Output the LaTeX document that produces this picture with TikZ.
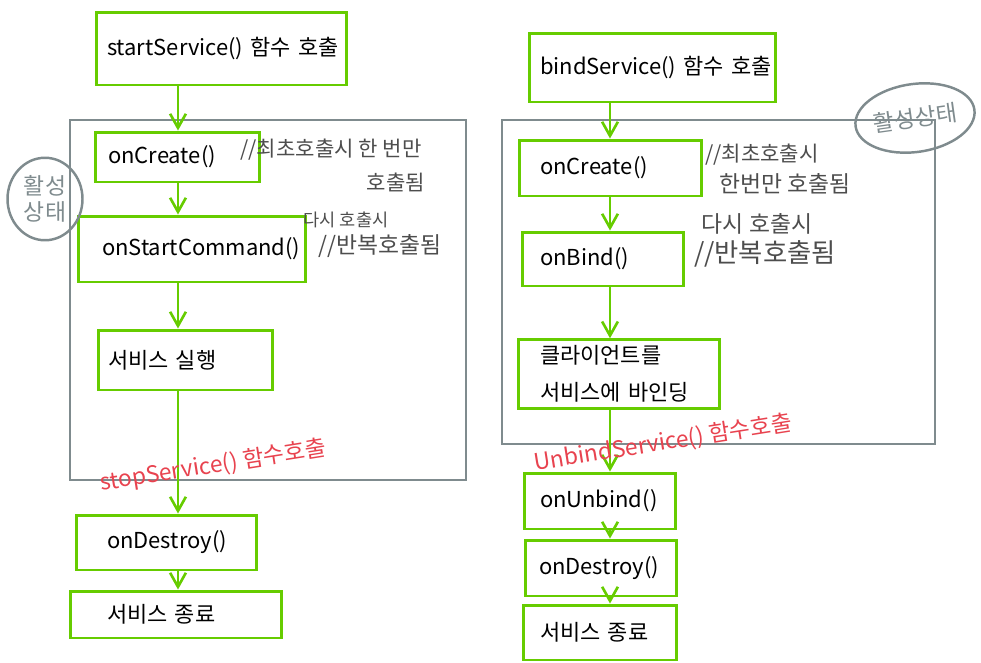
\documentclass[tikz,border=0pt]{standalone}
\usepackage{fontspec}
\setmainfont{Noto Sans CJK KR}
\usetikzlibrary{arrows.meta, shapes.geometric}
\definecolor{boxgreen}{HTML}{66CC00}
\definecolor{framegray}{HTML}{7F8B8E}
\definecolor{pengray}{HTML}{4D4D4D}
\definecolor{penred}{HTML}{E8434F}

\begin{document}
\begin{tikzpicture}[x=0.02cm, y=-0.02cm,
    box/.style={draw=boxgreen, line width=1.7pt, align=left, font=\fontsize{12.5}{15}\selectfont},
    flow/.style={draw=boxgreen, line width=1.5pt, -{Straight Barb[length=8pt, width=9pt, line width=1.5pt]}},
    frame/.style={draw=framegray, line width=1.4pt},
    memo/.style={text=pengray, inner sep=0pt},
    redmemo/.style={text=penred, font=\fontsize{13}{15}\selectfont, inner sep=0pt}]
\useasboundingbox (0,0) rectangle (981,663);

% startService() side
\draw[frame] (70,120) rectangle (466,480);
\node (startL) [box, minimum height=1.46cm, inner xsep=0.22cm, text width=4.58cm] at (221.5,48.5) {\mbox{startService() 함수 호출}};
\node (createL) [box, minimum height=1.0cm, inner xsep=0.26cm, text width=2.78cm] at (177.5,157) {onCreate()};
\node (command) [box, minimum height=1.32cm, inner xsep=0.48cm, text width=3.6cm] at (192,249) {\mbox{onStartCommand()}};
\node (runL) [box, minimum height=1.2cm, inner xsep=0.2cm, text width=3.1cm] at (185.5,360) {서비스 실행};
\node (destroyL) [box, minimum height=1.1cm, inner xsep=0.62cm, text width=2.38cm] at (166.5,542.5) {\mbox{onDestroy()}};
\node (endL) [box, minimum height=0.94cm, inner xsep=0.74cm, text width=2.76cm] at (176,614.5) {서비스 종료};
\coordinate (colL) at (178,0);
\draw[flow] (startL.south -| colL) -- (createL.north -| colL);
\draw[flow] (createL.south -| colL) -- (command.north -| colL);
\draw[flow] (command.south -| colL) -- (runL.north -| colL);
\draw[flow] (runL.south -| colL) -- (destroyL.north -| colL);
\draw[flow] (destroyL.south -| colL) -- (endL.north -| colL);

% notes, left
\node (activeL) [ellipse, draw=framegray, line width=1.4pt, text=framegray, align=center, inner sep=0pt, minimum width=1.5cm, minimum height=1.65cm, font=\fontsize{13}{15}\selectfont] at (45,199) {활성\\상태};
\node (onceL) [memo, font=\fontsize{12}{14}\selectfont] at (331,150) {//최초호출시 한 번만};
\node (onceL2) [memo, font=\fontsize{12}{14}\selectfont] at (396,182) {호출됨};
\node (againL) [memo, font=\fontsize{10}{12}\selectfont] at (346,220) {다시 호출시};
\node (againL2) [memo, font=\fontsize{13}{15}\selectfont] at (380,246) {//반복호출됨};
\node (stopnote) [redmemo, rotate=9] at (213,466) {stopService() 함수호출};

% bindService() side
\draw[frame] (502,120) rectangle (935,444);
\node (startR) [box, minimum height=1.38cm, inner xsep=0.22cm, text width=4.5cm] at (652.5,67.5) {\mbox{bindService() 함수 호출}};
\node (createR) [box, minimum height=1.12cm, inner xsep=0.42cm, text width=2.82cm] at (610.5,168) {onCreate()};
\node (bindR) [box, minimum height=1.08cm, inner xsep=0.36cm, text width=2.52cm] at (603,259) {onBind()};
\node (client) [box, minimum height=1.36cm, inner xsep=0.44cm, text width=3.16cm] at (619,374) {클라이언트를\\[6pt]\mbox{서비스에 바인딩}};
\node (unbind) [box, minimum height=1.12cm, inner xsep=0.32cm, text width=2.4cm] at (600,501) {onUnbind()};
\node (destroyR) [box, minimum height=1.12cm, inner xsep=0.28cm, text width=2.48cm] at (601,568) {onDestroy()};
\node (endR) [box, minimum height=1.1cm, inner xsep=0.34cm, text width=2.4cm] at (600,632.5) {서비스 종료};
\coordinate (colR) at (610,0);
\draw[flow] (startR.south -| colR) -- (createR.north -| colR);
\draw[flow] (createR.south -| colR) -- (bindR.north -| colR);
\draw[flow] (bindR.south -| colR) -- (client.north -| colR);
\draw[flow] (client.south -| colR) -- (unbind.north -| colR);
\draw[flow] (unbind.south -| colR) -- (destroyR.north -| colR);
\draw[flow] (destroyR.south -| colR) -- (endR.north -| colR);

% notes, right
\node (activeR) [ellipse, draw=framegray, line width=1.4pt, text=framegray, inner sep=0pt, minimum width=2.4cm, minimum height=1.36cm, rotate=8, font=\fontsize{13}{15}\selectfont] at (915,118) {활성상태};
\node (onceR) [memo, font=\fontsize{12}{14}\selectfont] at (762,155) {//최초호출시};
\node (onceR2) [memo, font=\fontsize{13}{15}\selectfont] at (785,184) {한번만 호출됨};
\node (againR) [memo, font=\fontsize{13}{15}\selectfont] at (757,224) {다시 호출시};
\node (againR2) [memo, font=\fontsize{15}{17}\selectfont] at (765,254) {//반복호출됨};
\node (unbindnote) [redmemo, rotate=9] at (663,443) {UnbindService() 함수호출};
\end{tikzpicture}
\end{document}
